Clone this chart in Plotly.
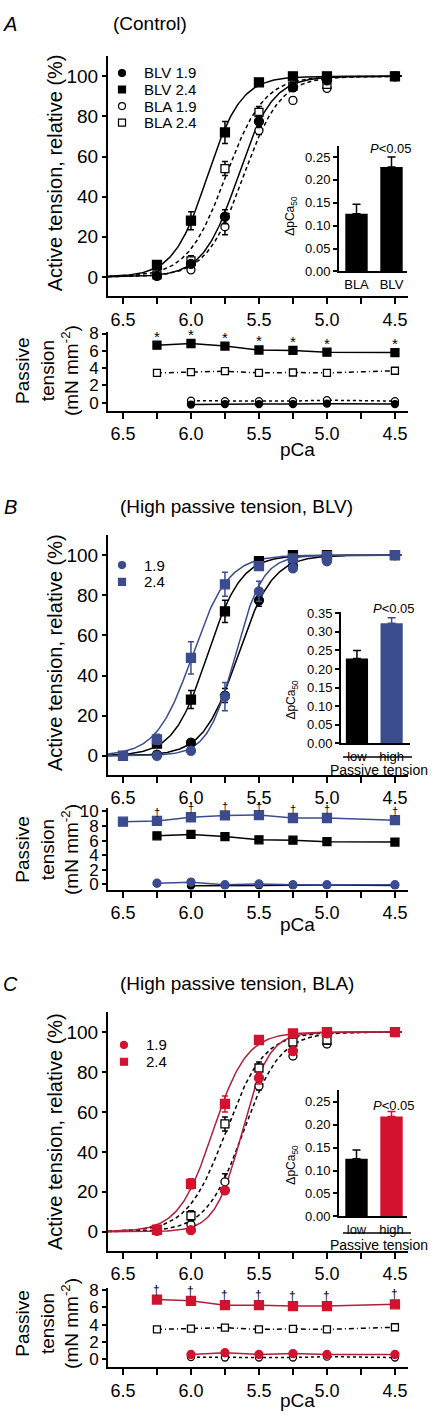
import numpy as np
import plotly.graph_objects as go

W, H = 440, 1419
FONT = "Liberation Sans, Arial, Helvetica, sans-serif"
BLACK = "#000000"
BLUE = "#3B4C8E"
RED = "#D2132F"
RED_LINE = "#B31E3A"

# ---------------- data ----------------
pca = [6.25, 6.0, 5.75, 5.5, 5.25, 5.0, 4.5]
pca_ext = [6.5, 6.25, 6.0, 5.75, 5.5, 5.25, 5.0, 4.5]
pca_pas = [6.0, 5.75, 5.5, 5.25, 5.0, 4.5]

# active tension (% of max), low passive tension groups
blv19_act = [0.5, 6.5, 30.0, 77.5, 94.5, 98.0, 100.0]
blv19_err = [0.0, 1.0, 3.5, 3.0, 2.0, 1.0, 0.0]
blv24_act = [6.0, 28.0, 72.0, 97.0, 100.0, 100.0, 100.0]
blv24_err = [1.0, 4.5, 5.5, 1.0, 0.0, 0.0, 0.0]
bla19_act = [0.5, 3.5, 25.0, 73.0, 88.0, 94.0, 100.0]
bla19_err = [0.5, 1.0, 4.0, 2.0, 1.5, 1.5, 0.0]
bla24_act = [1.0, 8.0, 54.0, 82.0, 95.0, 96.0, 100.0]
bla24_err = [1.0, 2.5, 3.5, 3.0, 2.0, 2.0, 0.0]

# high passive tension, BLV (blue) at pca_ext
hpv19_act = [0.0, 0.0, 2.5, 29.5, 82.0, 93.5, 97.0, 100.0]
hpv19_err = [0.0, 0.0, 0.5, 7.0, 5.0, 1.5, 1.0, 0.0]
hpv24_act = [0.0, 8.2, 48.8, 85.5, 94.6, 98.4, 99.5, 100.0]
hpv24_err = [0.0, 2.5, 8.0, 6.0, 1.5, 1.0, 0.5, 0.0]

# high passive tension, BLA (red) at pca
hpa19_act = [0.5, 0.8, 20.7, 77.0, 90.5, 99.3, 100.0]
hpa19_err = [0.0, 0.5, 1.5, 3.0, 1.5, 0.5, 0.0]
hpa24_act = [1.0, 24.0, 64.0, 96.0, 99.3, 100.0, 100.0]
hpa24_err = [0.0, 2.5, 4.0, 1.0, 0.5, 0.0, 0.0]

# Hill fit parameters: (pCa50, nH)
fit_blv19 = (5.655, 3.4)
fit_blv24 = (5.88, 3.5)
fit_bla19 = (5.615, 3.2)
fit_bla24 = (5.745, 3.1)
fit_hpv19 = (5.675, 4.3)
fit_hpv24 = (5.99, 3.3)
fit_hpa19 = (5.625, 4.4)
fit_hpa24 = (5.84, 3.5)

# passive tension (mN mm-2)
blv24_pas = [6.65, 6.85, 6.55, 6.1, 6.05, 5.85, 5.8]           # at pca
bla24_pas = [3.45, 3.55, 3.65, 3.45, 3.5, 3.45, 3.7]            # at pca
bla19_pas = [0.25, 0.2, 0.2, 0.2, 0.3, 0.2]                     # at pca_pas
blv19_pas = [-0.2, -0.15, -0.15, -0.15, -0.1, -0.15]            # at pca_pas
hpv24_pas = [8.6, 8.7, 9.2, 9.45, 9.5, 9.1, 9.1, 8.8]           # at pca_ext
hpv19_pas = [0.15, 0.3, -0.05, 0.05, -0.05, -0.05, -0.05]       # at pca
hpa24_pas = [6.9, 6.75, 6.25, 6.25, 6.15, 6.15, 6.35]           # at pca
hpa19_pas = [0.55, 0.75, 0.55, 0.65, 0.55, 0.55]                # at pca_pas

# inset bars: delta pCa50
insA_cat = ["BLA", "BLV"]
insA_val = [0.126, 0.228]
insA_err = [0.021, 0.022]
insB_cat = ["low", "high"]
insB_val = [0.228, 0.323]
insB_err = [0.022, 0.015]
insC_cat = ["low", "high"]
insC_val = [0.126, 0.218]
insC_err = [0.019, 0.011]

x_ticks = [6.5, 6.25, 6.0, 5.75, 5.5, 5.25, 5.0, 4.75, 4.5]
x_ticktext = ["6.5", " ", "6.0", " ", "5.5", " ", "5.0", " ", "4.5"]

# ---------------- helpers ----------------
def xdom(l, r):
    return [l / W, r / W]

def ydom(t, b):
    return [1 - b / H, 1 - t / H]

def px(x):
    return x / W

def py(y):
    return 1 - y / H

fig = go.Figure()
annotations = []
shapes = []

def ann(text, x, y, size, xanchor="center", yanchor="middle", angle=0, **kw):
    d = dict(text=text, x=px(x), y=py(y), xref="paper", yref="paper",
             xanchor=xanchor, yanchor=yanchor, showarrow=False, textangle=angle,
             font=dict(family=FONT, size=size, color="black"))
    d.update(kw)
    annotations.append(d)

def hill_curve(params):
    p50, nh = params
    xs = np.linspace(6.61, 4.45, 300)
    ys = 100.0 / (1.0 + 10 ** (nh * (xs - p50)))
    return xs, ys

def add_fit(params, n, color, dash="solid", width=1.5):
    xs, ys = hill_curve(params)
    fig.add_trace(go.Scatter(x=xs, y=ys, mode="lines", xaxis=f"x{n}", yaxis=f"y{n}",
                             line=dict(color=color, width=width, dash=dash),
                             hoverinfo="skip"))

def add_pts(x, y, err, n, symbol, fill, edge, size=9):
    e = dict(type="data", array=err, visible=True, color=edge, thickness=1.5, width=3)
    fig.add_trace(go.Scatter(x=x, y=y, mode="markers", xaxis=f"x{n}", yaxis=f"y{n}",
                             error_y=e,
                             marker=dict(symbol=symbol, size=size, color=fill,
                                         line=dict(color=edge, width=1.3))))

def add_pas(x, y, n, symbol, fill, edge, dash="solid", size=8, lcolor=None):
    fig.add_trace(go.Scatter(x=x, y=y, mode="lines+markers", xaxis=f"x{n}", yaxis=f"y{n}",
                             line=dict(color=lcolor or edge, width=1.5, dash=dash),
                             marker=dict(symbol=symbol, size=size, color=fill,
                                         line=dict(color=edge, width=1.3))))

def add_bars(vals, errs, colors, n):
    for i in range(len(vals)):
        fig.add_trace(go.Bar(x=[i], y=[vals[i]], xaxis=f"x{n}", yaxis=f"y{n}",
                             width=0.64, marker=dict(color=colors[i], line=dict(width=0)),
                             error_y=dict(type="data", array=[errs[i]], arrayminus=[0],
                                          visible=True, color=colors[i], thickness=1.5, width=4)))

layout_axes = {}

def axis_common():
    return dict(showline=True, linecolor="black", linewidth=2, showgrid=False, zeroline=False,
                ticks="outside", tickcolor="black", tickwidth=2,
                tickfont=dict(family=FONT, size=18, color="black"))

def main_axes(n, top, bottom, yr):
    xa = axis_common()
    xa.update(domain=xdom(108, 408), range=[6.61, 4.404], anchor=f"y{n}",
              tickmode="array", tickvals=x_ticks, ticktext=x_ticktext, ticklen=6)
    ya = axis_common()
    ya.update(domain=ydom(top, bottom), range=yr, anchor=f"x{n}",
              tickmode="array", tickvals=[0, 20, 40, 60, 80, 100], ticklen=4,
              tickfont=dict(family=FONT, size=19, color="black"))
    layout_axes["xaxis" if n == 1 else f"xaxis{n}"] = xa
    layout_axes["yaxis" if n == 1 else f"yaxis{n}"] = ya

def pas_axes(n, top, bottom, yr, yt):
    xa = axis_common()
    xa.update(domain=xdom(108, 408), range=[6.61, 4.404], anchor=f"y{n}",
              tickmode="array", tickvals=x_ticks, ticktext=x_ticktext, ticklen=6)
    ya = axis_common()
    ya.update(domain=ydom(top, bottom), range=yr, anchor=f"x{n}",
              tickmode="array", tickvals=yt, ticklen=4,
              tickfont=dict(family=FONT, size=17, color="black"))
    layout_axes[f"xaxis{n}"] = xa
    layout_axes[f"yaxis{n}"] = ya

def inset_axes(n, l, r, top, bottom, xr, yr, cats, yt):
    xa = dict(showline=True, linecolor="black", linewidth=2, showgrid=False, zeroline=False,
              domain=xdom(l, r), range=xr, anchor=f"y{n}", ticks="",
              tickmode="array", tickvals=list(range(len(cats))), ticktext=cats,
              tickfont=dict(family=FONT, size=13, color="black"))
    ya = dict(showline=True, linecolor="black", linewidth=2, showgrid=False, zeroline=False,
              domain=ydom(top, bottom), range=yr, anchor=f"x{n}", ticks="outside",
              ticklen=4, tickwidth=1.5, tickcolor="black",
              tickmode="array", tickvals=yt, tickformat=".2f",
              tickfont=dict(family=FONT, size=13, color="black"))
    layout_axes[f"xaxis{n}"] = xa
    layout_axes[f"yaxis{n}"] = ya

def legend_marker(kind, xc, yc, size, fill, edge):
    shapes.append(dict(type=kind, xref="paper", yref="paper",
                       xsizemode="pixel", ysizemode="pixel",
                       xanchor=px(xc), yanchor=py(yc),
                       x0=-size / 2, x1=size / 2, y0=-size / 2, y1=size / 2,
                       fillcolor=fill, line=dict(color=edge, width=1.2)))

# ================= Panel A =================
main_axes(1, 50, 292, [-9.5, 109.9])
add_fit(fit_bla24, 1, BLACK, dash="4px,3px")
add_fit(fit_bla19, 1, BLACK, dash="4px,3px")
add_fit(fit_blv24, 1, BLACK)
add_fit(fit_blv19, 1, BLACK)
add_pts(pca, bla19_act, bla19_err, 1, "circle", "white", BLACK, 8)
add_pts(pca, bla24_act, bla24_err, 1, "square", "white", BLACK, 8)
add_pts(pca, blv19_act, blv19_err, 1, "circle", BLACK, BLACK, 9)
add_pts(pca, blv24_act, blv24_err, 1, "square", BLACK, BLACK, 9)

pas_axes(2, 328, 408, [-0.91, 8.23], [0, 2, 4, 6, 8])
add_pas(pca_pas, bla19_pas, 2, "circle", "white", BLACK, dash="3px,3px", size=7)
add_pas(pca_pas, blv19_pas, 2, "circle", BLACK, BLACK, size=7)
add_pas(pca, bla24_pas, 2, "square", "white", BLACK, dash="5px,3px,1px,3px", size=7)
add_pas(pca, blv24_pas, 2, "square", BLACK, BLACK, size=8)
for xv, yv in zip(pca, blv24_pas):
    annotations.append(dict(text="*", x=xv, y=yv, xref="x2", yref="y2", showarrow=False,
                            yshift=9, font=dict(family=FONT, size=15, color="black")))

inset_axes(3, 339, 407, 140, 267.3, [-0.5, 1.443], [0, 0.275], insA_cat,
           [0, 0.05, 0.10, 0.15, 0.20, 0.25])
add_bars(insA_val, insA_err, [BLACK, BLACK], 3)

ann("<i>A</i>", 10, 17, 20)
ann("(Control)", 150, 17, 19)
ann("Active tension, relative (%)", 55, 168, 20, angle=-90)
ann("Passive<br>tension<br>(mN mm<sup>-2</sup>)", 47, 368, 19, angle=-90)
ann("pCa", 297, 447, 19)
ann("ΔpCa<sub>50</sub>", 291, 211, 12, angle=-90)
ann("<i>P</i>&lt;0.05", 391, 143, 13)
for i, (k, fill, lab) in enumerate([("circle", BLACK, "BLV 1.9"), ("rect", BLACK, "BLV 2.4"),
                                     ("circle", "white", "BLA 1.9"), ("rect", "white", "BLA 2.4")]):
    yc = 66.7 + i * 16.7
    legend_marker(k, 122, yc, 7, fill, BLACK)
    ann(lab, 142, yc, 15, xanchor="left")

# ================= Panel B =================
main_axes(4, 534, 776, [-9.5, 109.9])
add_fit(fit_blv24, 4, BLACK)
add_fit(fit_blv19, 4, BLACK)
add_fit(fit_hpv24, 4, BLUE)
add_fit(fit_hpv19, 4, BLUE)
add_pts(pca, blv19_act, blv19_err, 4, "circle", BLACK, BLACK, 9)
add_pts(pca, blv24_act, blv24_err, 4, "square", BLACK, BLACK, 9)
add_pts(pca_ext, hpv19_act, hpv19_err, 4, "circle", BLUE, BLUE, 9)
add_pts(pca_ext, hpv24_act, hpv24_err, 4, "square", BLUE, BLUE, 9)

pas_axes(5, 810, 892, [-0.72, 10.41], [0, 2, 4, 6, 8, 10])
add_pas(pca_pas, blv19_pas, 5, "circle", BLACK, BLACK, size=7)
add_pas(pca, hpv19_pas, 5, "circle", BLUE, BLUE, size=8)
add_pas(pca, blv24_pas, 5, "square", BLACK, BLACK, size=8)
add_pas(pca_ext, hpv24_pas, 5, "square", BLUE, BLUE, size=9)
for xv, yv in zip(pca_ext[1:], hpv24_pas[1:]):
    annotations.append(dict(text="†", x=xv, y=yv, xref="x5", yref="y5", showarrow=False,
                            yshift=9, font=dict(family=FONT, size=11, color="black")))

inset_axes(6, 341, 410, 611.7, 744, [-0.46, 1.53], [0, 0.353], insB_cat,
           [0, 0.05, 0.10, 0.15, 0.20, 0.25, 0.30, 0.35])
add_bars(insB_val, insB_err, [BLACK, BLUE], 6)
shapes.append(dict(type="line", xref="paper", yref="paper", x0=px(343), x1=px(412),
                   y0=py(758), y1=py(758), line=dict(color="black", width=1.5)))
ann("Passive tension", 379, 771, 14)

ann("<i>B</i>", 10, 505, 20)
ann("(High passive tension, BLV)", 236, 505, 19)
ann("Active tension, relative (%)", 55, 653, 20, angle=-90)
ann("Passive<br>tension<br>(mN mm<sup>-2</sup>)", 47, 852, 19, angle=-90)
ann("pCa", 297, 927, 19)
ann("ΔpCa<sub>50</sub>", 292, 700, 12, angle=-90)
ann("<i>P</i>&lt;0.05", 394, 608, 13)
legend_marker("circle", 122, 564, 7, BLUE, BLUE)
legend_marker("rect", 122, 581, 7, BLUE, BLUE)
ann("1.9", 142, 564, 15, xanchor="left")
ann("2.4", 142, 581, 15, xanchor="left")

# ================= Panel C =================
main_axes(7, 1016, 1257, [-9.5, 109.9])
add_fit(fit_bla24, 7, BLACK, dash="4px,3px")
add_fit(fit_bla19, 7, BLACK, dash="4px,3px")
add_fit(fit_hpa24, 7, RED_LINE)
add_fit(fit_hpa19, 7, RED_LINE)
add_pts(pca, bla19_act, bla19_err, 7, "circle", "white", BLACK, 8)
add_pts(pca, bla24_act, bla24_err, 7, "square", "white", BLACK, 8)
add_pts(pca, hpa19_act, hpa19_err, 7, "circle", RED, RED, 9)
add_pts(pca, hpa24_act, hpa24_err, 7, "square", RED, RED, 9)

pas_axes(8, 1295, 1375, [-0.95, 8.2], [0, 2, 4, 6, 8])
add_pas(pca_pas, bla19_pas, 8, "circle", "white", BLACK, dash="3px,3px", size=7)
add_pas(pca_pas, hpa19_pas, 8, "circle", RED, RED, size=8, lcolor=RED_LINE)
add_pas(pca, bla24_pas, 8, "square", "white", BLACK, dash="5px,3px,1px,3px", size=7)
add_pas(pca, hpa24_pas, 8, "square", RED, RED, size=9, lcolor=RED_LINE)
for xv, yv in zip(pca, hpa24_pas):
    annotations.append(dict(text="†", x=xv, y=yv, xref="x8", yref="y8", showarrow=False,
                            yshift=10, font=dict(family=FONT, size=12, color="black")))

inset_axes(9, 339, 407, 1095, 1222.3, [-0.5, 1.443], [0, 0.275], insC_cat,
           [0, 0.05, 0.10, 0.15, 0.20, 0.25])
add_bars(insC_val, insC_err, [BLACK, RED], 9)
shapes.append(dict(type="line", xref="paper", yref="paper", x0=px(343), x1=px(411),
                   y0=py(1239), y1=py(1239), line=dict(color="black", width=1.5)))
ann("Passive tension", 379, 1251, 14)

ann("<i>C</i>", 10, 987, 20)
ann("(High passive tension, BLA)", 237, 987, 19)
ann("Active tension, relative (%)", 55, 1137, 20, angle=-90)
ann("Passive<br>tension<br>(mN mm<sup>-2</sup>)", 47, 1331, 19, angle=-90)
ann("pCa", 297, 1408, 19)
ann("ΔpCa<sub>50</sub>", 292, 1170, 12, angle=-90)
ann("<i>P</i>&lt;0.05", 394, 1110, 13)
legend_marker("circle", 124, 1049, 7, RED, RED)
legend_marker("rect", 124, 1066, 7, RED, RED)
ann("1.9", 144, 1049, 15, xanchor="left")
ann("2.4", 144, 1066, 15, xanchor="left")

fig.update_layout(
    width=W, height=H, autosize=False,
    margin=dict(l=0, r=0, t=0, b=0),
    paper_bgcolor="white", plot_bgcolor="white",
    showlegend=False, barmode="overlay",
    font=dict(family=FONT, color="black"),
    annotations=annotations, shapes=shapes,
    **layout_axes,
)

fig.write_html("out.html",
               config=dict(displayModeBar=False),
               post_script="document.body.style.margin='0';document.body.style.padding='0';"
                           "document.body.style.overflow='hidden';")
